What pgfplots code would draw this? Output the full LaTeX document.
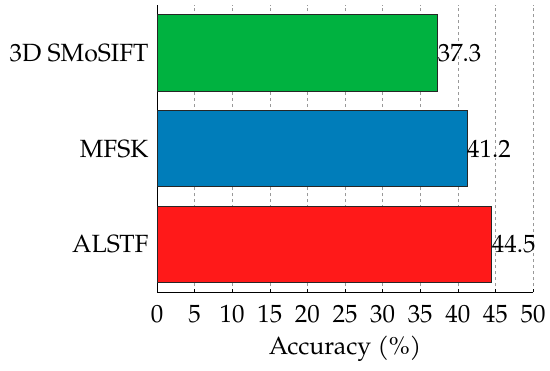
\documentclass[border=0pt]{standalone}
\usepackage{fontspec}
\setmainfont{TeX Gyre Pagella}
\usepackage{pgfplots}
\pgfplotsset{compat=1.18}
\usetikzlibrary{calc}
\definecolor{cgreen}{RGB}{0,178,64}
\definecolor{cblue}{RGB}{0,125,186}
\definecolor{cred}{RGB}{255,25,25}
\begin{document}
\begin{tikzpicture}
\begin{axis}[
  name=ax,
  scale only axis,
  width=376bp, height=287bp,
  xbar, bar width=0.8,
  bar shift=0pt,
  xmin=0, xmax=50,
  ymin=-0.5, ymax=2.5,
  xtick={0,5,...,50},
  ytick={0,1,2},
  yticklabels={ALSTF,MFSK,3D SMoSIFT},
  axis x line*=bottom,
  axis y line*=left,
  x axis line style={-},
  y axis line style={-},
  xmajorgrids,
  major grid style={dashed, gray!80, line width=0.5pt},
  xtick style={black, line width=0.5pt},
  major tick length=3bp,
  xtick pos=bottom,
  ytick style={draw=none},
  tick align=inside,
  font=\fontsize{25}{30}\selectfont,
  tick label style={font=\fontsize{25}{30}\selectfont},
  /pgf/number format/assume math mode=true,
  xlabel={Accuracy (\%)},
  xlabel style={yshift=-6bp},
  xticklabel style={yshift=-10bp},
  yticklabel style={xshift=-5bp},
  nodes near coords,
  nodes near coords style={anchor=west, inner sep=0pt, font=\fontsize{25}{30}\selectfont, /pgf/number format/.cd, fixed, precision=1, zerofill},
  every axis plot/.append style={draw=black!85, line width=0.6pt},
]
\addplot[fill=cred, draw=black!85] coordinates {(44.5,0)};
\addplot[fill=cblue, draw=black!85] coordinates {(41.2,1)};
\addplot[fill=cgreen, draw=black!85] coordinates {(37.3,2)};
\end{axis}
\path[use as bounding box] ($(ax.south west)+(-157bp,-78bp)$) rectangle ($(ax.north east)+(17bp,5bp)$);
\end{tikzpicture}
\end{document}
